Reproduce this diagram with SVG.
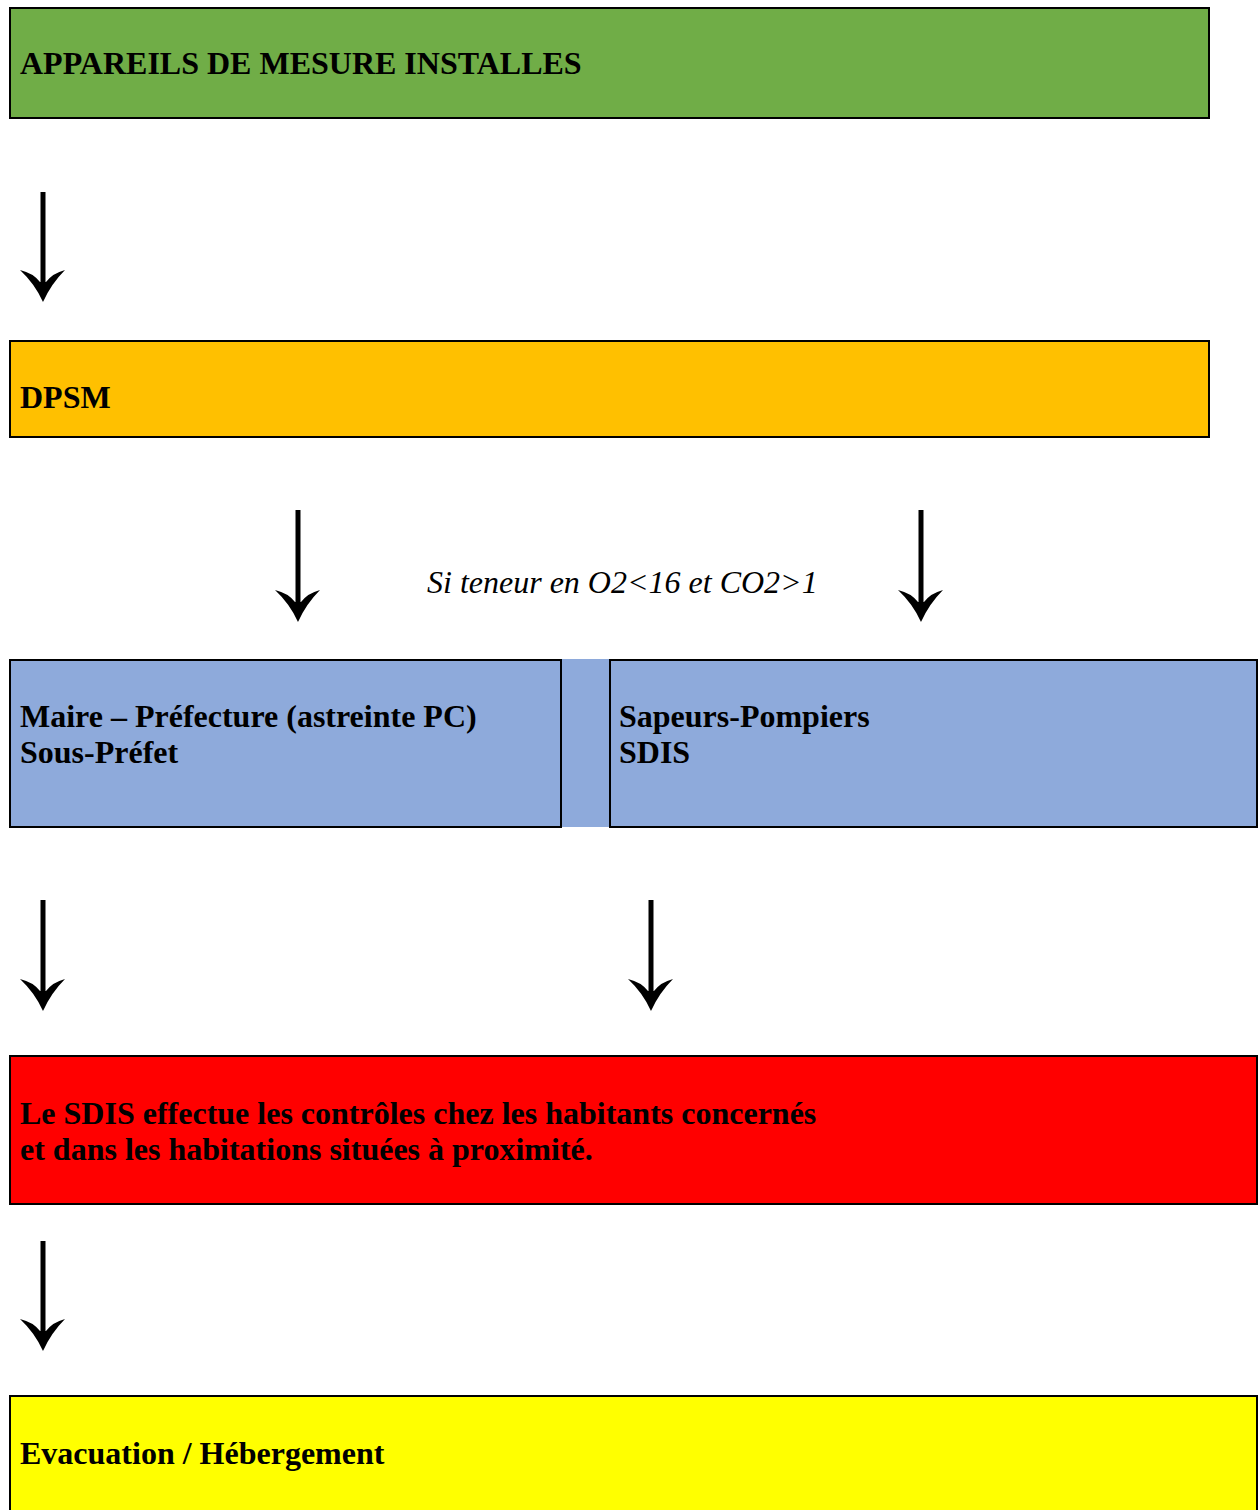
<svg xmlns="http://www.w3.org/2000/svg" width="1258" height="1510" viewBox="0 0 1258 1510">
<defs>
<style>
.box{stroke:#000;stroke-width:2}
.t{font-family:"Liberation Serif","Times New Roman",serif;font-size:32px;font-weight:bold;fill:#000}
.it{font-family:"Liberation Serif","Times New Roman",serif;font-size:32px;font-style:italic;fill:#000}
.shaft{stroke:#000;stroke-width:5;fill:none}
.head{fill:#000}
</style>
<path id="ah" d="M0,0 Q-8,-18 -23,-32 Q-10,-29 -3,-20 L3,-20 Q10,-29 22,-32 Q8,-18 0,0 Z"/>
</defs>
<rect width="1258" height="1510" fill="#fff"/>
<g id="n1">
<rect class="box" x="10" y="8" width="1199" height="110" fill="#70AD47"/>
<text class="t" x="20" y="74">APPAREILS DE MESURE INSTALLES</text>
</g>
<g id="n2">
<rect class="box" x="10" y="341" width="1199" height="96" fill="#FFC000"/>
<text class="t" x="20" y="408">DPSM</text>
</g>
<g id="gap">
<rect x="561" y="659" width="49" height="168" fill="#8EAADB"/>
</g>
<g id="n3">
<rect class="box" x="10" y="660" width="551" height="167" fill="#8EAADB"/>
<text class="t" x="20" y="727">Maire – Préfecture (astreinte PC)</text>
<text class="t" x="20" y="763">Sous-Préfet</text>
</g>
<g id="n4">
<rect class="box" x="610" y="660" width="647" height="167" fill="#8EAADB"/>
<text class="t" x="619" y="727">Sapeurs-Pompiers</text>
<text class="t" x="619" y="763">SDIS</text>
</g>
<g id="n5">
<rect class="box" x="10" y="1056" width="1247" height="148" fill="#FF0000"/>
<text class="t" x="20" y="1124">Le SDIS effectue les contrôles chez les habitants concernés</text>
<text class="t" x="20" y="1160">et dans les habitations situées à proximité.</text>
</g>
<g id="n6">
<rect class="box" x="10" y="1396" width="1247" height="120" fill="#FFFF00"/>
<text class="t" x="20" y="1464">Evacuation / Hébergement</text>
</g>
<text class="it" x="427" y="593">Si teneur en O2&lt;16 et CO2&gt;1</text>
<g id="connectors">
<line class="shaft" x1="43" y1="192" x2="43" y2="288"/>
<use href="#ah" x="43" y="302"/>
<line class="shaft" x1="298" y1="510" x2="298" y2="608"/>
<use href="#ah" x="298" y="622"/>
<line class="shaft" x1="921" y1="510" x2="921" y2="608"/>
<use href="#ah" x="921" y="622"/>
<line class="shaft" x1="43" y1="900" x2="43" y2="997"/>
<use href="#ah" x="43" y="1011"/>
<line class="shaft" x1="651" y1="900" x2="651" y2="997"/>
<use href="#ah" x="651" y="1011"/>
<line class="shaft" x1="43" y1="1241" x2="43" y2="1337"/>
<use href="#ah" x="43" y="1351"/>
</g>
</svg>
